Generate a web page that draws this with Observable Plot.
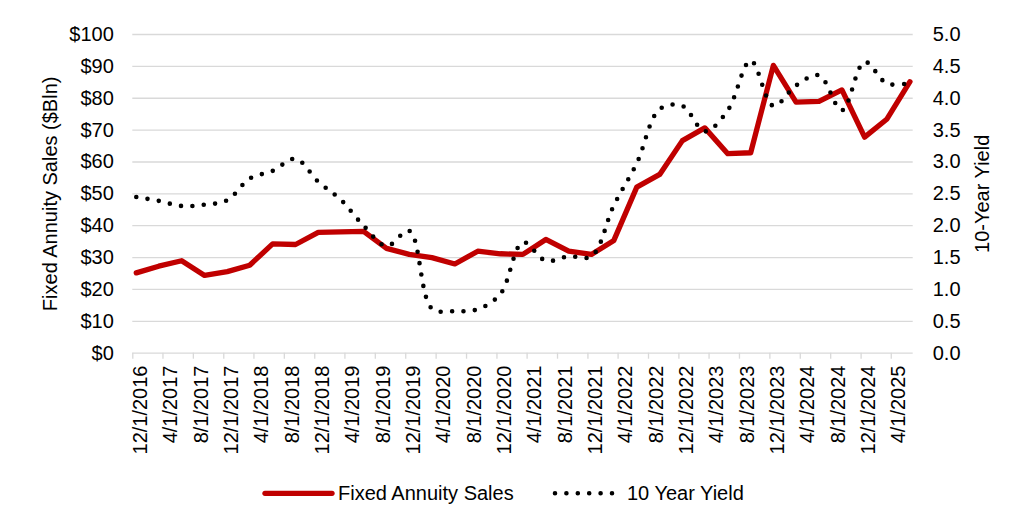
<!DOCTYPE html>
<html>
<head>
<meta charset="utf-8">
<script src="https://cdn.jsdelivr.net/npm/d3@7"></script>
<script src="https://cdn.jsdelivr.net/npm/@observablehq/plot@0.6"></script>
<style>
html, body { margin: 0; padding: 0; background: #fff; }
#chart { width: 1024px; height: 529px; position: relative; font-family: "Liberation Sans", Arial, sans-serif; }
#legend { position: absolute; left: 0; top: 470px; }
</style>
</head>
<body>
<div id="chart"></div>
<script>
// ---- data ----
const quarters = [
  "2016-12","2017-03","2017-06","2017-09","2017-12","2018-03","2018-06","2018-09","2018-12",
  "2019-03","2019-06","2019-09","2019-12","2020-03","2020-06","2020-09","2020-12",
  "2021-03","2021-06","2021-09","2021-12","2022-03","2022-06","2022-09","2022-12",
  "2023-03","2023-06","2023-09","2023-12","2024-03","2024-06","2024-09","2024-12",
  "2025-03","2025-06"
];
const sales = [
  25.2, 27.3, 29.0, 24.4, 25.6, 27.6, 34.3, 34.1, 37.9,
  38.1, 38.2, 32.9, 31.0, 30.0, 28.0, 32.0, 31.2,
  31.0, 35.7, 32.0, 31.0, 35.4, 52.1, 56.1, 66.7,
  70.7, 62.6, 62.9, 90.3, 78.8, 79.0, 82.6, 67.8,
  73.5, 85.2
];
const yields = [
  2.45, 2.39, 2.31, 2.33, 2.40, 2.74, 2.86, 3.05, 2.69,
  2.41, 2.00, 1.68, 1.92, 0.70, 0.66, 0.69, 0.93,
  1.74, 1.45, 1.52, 1.52, 2.32, 2.98, 3.83, 3.88,
  3.48, 3.81, 4.59, 3.88, 4.20, 4.36, 3.81, 4.57,
  4.23, 4.24
];
const tickLabels = [
  "12/1/2016","4/1/2017","8/1/2017","12/1/2017","4/1/2018","8/1/2018","12/1/2018",
  "4/1/2019","8/1/2019","12/1/2019","4/1/2020","8/1/2020","12/1/2020",
  "4/1/2021","8/1/2021","12/1/2021","4/1/2022","8/1/2022","12/1/2022",
  "4/1/2023","8/1/2023","12/1/2023","4/1/2024","8/1/2024","12/1/2024","4/1/2025"
];
const leftTicks = [0, 10, 20, 30, 40, 50, 60, 70, 80, 90, 100];
const rightTicks = [0, 0.5, 1, 1.5, 2, 2.5, 3, 3.5, 4, 4.5, 5];
const seriesNames = ["Fixed Annuity Sales", "10 Year Yield"];
const axisTitles = ["Fixed Annuity Sales ($Bln)", "10-Year Yield"];
const xStart = "12/1/2016";
const xEnd = "6/28/2025";

// ---- build ----
const parseQ = s => new Date(Date.UTC(+s.slice(0, 4), +s.slice(5, 7) - 1, 15));
const parseMDY = s => { const [m, d, y] = s.split("/").map(Number); return new Date(Date.UTC(y, m - 1, d)); };
const data = quarters.map((q, i) => ({date: parseQ(q), sales: sales[i], yld: yields[i]}));
const tickDates = tickLabels.map(parseMDY);
const labelMap = new Map(tickDates.map((d, i) => [+d, tickLabels[i]]));
const ratio = 100 / 5; // secondary axis 0–5 mapped onto 0–100
const FONT = '"Liberation Sans", Arial, sans-serif';
const RED = "#C00000";

const plot = Plot.plot({
  width: 1024,
  height: 470,
  marginLeft: 132.3,
  marginRight: 111.3,
  marginTop: 34,
  marginBottom: 117.3,
  style: {fontFamily: FONT, fontSize: "20px", color: "#000", background: "#fff", overflow: "visible"},
  x: {type: "utc", domain: [parseMDY(xStart), parseMDY(xEnd)], label: null},
  y: {domain: [0, 100], label: null},
  marks: [
    Plot.gridY(leftTicks, {stroke: "#d9d9d9", strokeOpacity: 1, strokeWidth: 1.3}),
    Plot.axisX({ticks: tickDates, tickSize: 6, stroke: "#d9d9d9", strokeWidth: 1.3, tickFormat: () => "", label: null}),
    Plot.axisX({ticks: tickDates, tickSize: 0, tickPadding: 12.3, tickRotate: -90, textAnchor: "end", lineAnchor: "top",
      tickFormat: d => labelMap.get(+d), fill: "#000", fontSize: 20, label: null}),
    Plot.axisY({ticks: leftTicks, anchor: "left", tickSize: 0, tickPadding: 19, tickFormat: d => "$" + d, fill: "#000", fontSize: 20, label: null}),
    Plot.axisY({ticks: rightTicks.map(v => v * ratio), anchor: "right", tickSize: 0, tickPadding: 19.5,
      tickFormat: d => (d / ratio).toFixed(1), fill: "#000", fontSize: 20, label: null}),
    Plot.line(data, {x: "date", y: "sales", stroke: RED, strokeWidth: 5.3, strokeLinejoin: "round", strokeLinecap: "round"}),
    Plot.line(data, {x: "date", y: d => d.yld * ratio, curve: "catmull-rom", stroke: "#000", strokeWidth: 4.6,
      strokeDasharray: "0 11.4", strokeLinecap: "round"}),
    Plot.text([axisTitles[0]], {text: d => d, frameAnchor: "left", dx: -82.3, rotate: -90, textAnchor: "middle", lineAnchor: "middle", fontSize: 20, fill: "#000"}),
    Plot.text([axisTitles[1]], {text: d => d, frameAnchor: "right", dx: 69.7, rotate: -90, textAnchor: "middle", lineAnchor: "middle", fontSize: 20, fill: "#000"})
  ]
});
const chart = document.getElementById("chart");
chart.appendChild(plot);

// ---- legend (below the plot) ----
const ns = "http://www.w3.org/2000/svg";
const leg = document.createElementNS(ns, "svg");
leg.setAttribute("id", "legend");
leg.setAttribute("width", 1024);
leg.setAttribute("height", 59);
leg.style.fontFamily = FONT;
const cy = 23.3;
const items = [
  {x1: 265, x2: 332, tx: 338, stroke: RED, width: 5.3, dash: null, name: seriesNames[0]},
  {x1: 555, x2: 612, tx: 627, stroke: "#000", width: 4.6, dash: "0 11.4", name: seriesNames[1]}
];
for (const it of items) {
  const l = document.createElementNS(ns, "line");
  l.setAttribute("x1", it.x1); l.setAttribute("x2", it.x2);
  l.setAttribute("y1", cy); l.setAttribute("y2", cy);
  l.setAttribute("stroke", it.stroke); l.setAttribute("stroke-width", it.width);
  l.setAttribute("stroke-linecap", "round");
  if (it.dash) l.setAttribute("stroke-dasharray", it.dash);
  leg.appendChild(l);
  const t = document.createElementNS(ns, "text");
  t.setAttribute("x", it.tx); t.setAttribute("y", cy + 7);
  t.setAttribute("font-size", 20); t.setAttribute("fill", "#000");
  t.textContent = it.name;
  leg.appendChild(t);
}
chart.appendChild(leg);
</script>
</body>
</html>
